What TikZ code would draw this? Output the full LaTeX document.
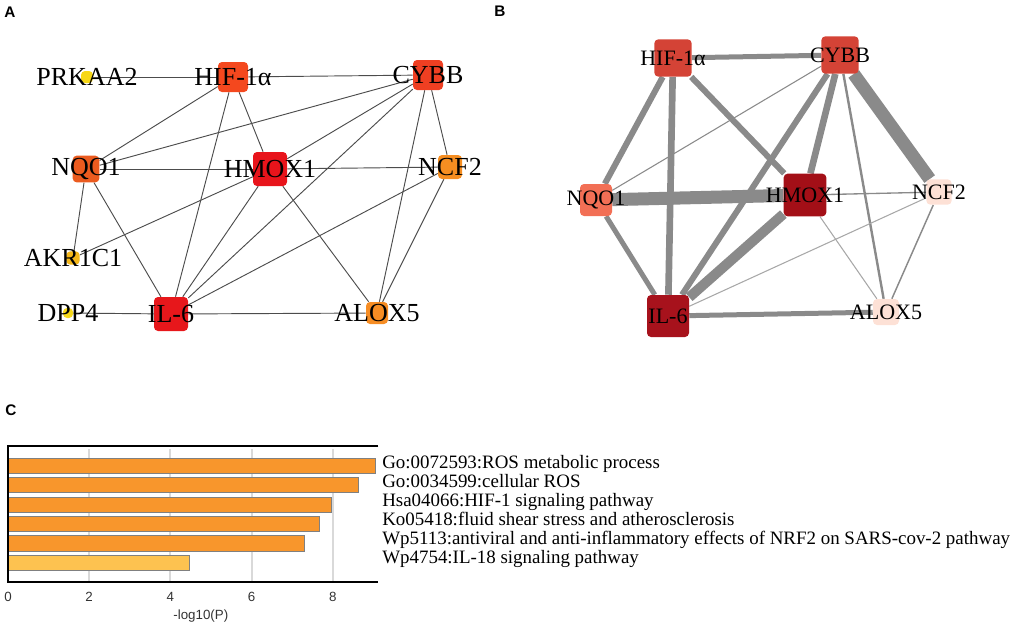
\documentclass[tikz,border=0pt]{standalone}
\usepackage{fontspec}
\setmainfont{Liberation Serif}
\setsansfont{Liberation Sans}
\usetikzlibrary{backgrounds}

\definecolor{cPrk}{HTML}{F7D716}
\definecolor{cHifA}{HTML}{F4481E}
\definecolor{cCybbA}{HTML}{EF3F22}
\definecolor{cNqoA}{HTML}{EB5B1F}
\definecolor{cHmoxA}{HTML}{E8141B}
\definecolor{cNcfA}{HTML}{F68E21}
\definecolor{cAkr}{HTML}{F6B81A}
\definecolor{cDpp}{HTML}{F5D81B}
\definecolor{cIlA}{HTML}{E7171B}
\definecolor{cAloxA}{HTML}{F68D24}
\definecolor{cHifB}{HTML}{D44336}
\definecolor{cNqoB}{HTML}{F26F55}
\definecolor{cHmoxB}{HTML}{A30F17}
\definecolor{cIlB}{HTML}{A7121C}
\definecolor{cPale}{HTML}{FDE1D6}
\definecolor{cEdge}{HTML}{8A8A8A}
\definecolor{cEdgeLt}{HTML}{A8A8A8}
\definecolor{cBar}{HTML}{F8962C}
\definecolor{cBarLt}{HTML}{FDC250}

\newcommand{\geneA}{\fontsize{19.5}{20}\selectfont}
\newcommand{\geneB}{\fontsize{16.5}{17}\selectfont}
\newcommand{\termfont}{\fontsize{14.2}{15}\selectfont}
\newcommand{\tickfont}{\sffamily\fontsize{10}{11}\selectfont}

\tikzset{
  gene/.style={rectangle, rounded corners=3pt, inner sep=0pt, fill=#1},
  edgeA/.style={draw=black!70, line width=0.7pt},
  edgeB/.style={draw=cEdge, line width=#1},
  panel/.style={font=\sffamily\bfseries\fontsize{11.5}{12}\selectfont},
  bar/.style={draw=gray, line width=0.6pt, fill=#1},
  term/.style={font=\termfont, anchor=base west, inner sep=0pt},
}

\begin{document}
\begin{tikzpicture}[x=0.75pt,y=-0.75pt]
\useasboundingbox (0,0) rectangle (1021,626);

\node[panel] (lettA) at (10,12) {A};
\node[panel] (lettB) at (500,11) {B};
\node[panel] (lettC) at (11,410) {C};

%% panel A
\begin{scope}[every label/.style={font=\geneA}]
\node[gene=cPrk, minimum size=9pt, label=center:PRKAA2] (prkA) at (87,77) {};
\node[gene=cHifA, minimum size=22.5pt, label=center:HIF-1α] (hifA) at (233,77) {};
\node[gene=cCybbA, minimum size=22.5pt, label=center:CYBB] (cybbA) at (428,75) {};
\node[gene=cNqoA, minimum size=20pt, label=center:NQO1] (nqoA) at (86,169) {};
\node[gene=cHmoxA, minimum size=25.5pt, label=center:HMOX1] (hmoxA) at (270,169) {};
\node[gene=cNcfA, minimum size=18pt, label=center:NCF2] (ncfA) at (450,167) {};
\node[gene=cAkr, minimum size=10pt, label=center:AKR1C1] (akrA) at (73,258) {};
\node[gene=cDpp, minimum size=7.5pt, label=center:DPP4] (dppA) at (68,313) {};
\node[gene=cIlA, minimum size=25.5pt, label=center:IL-6] (ilA) at (171,314) {};
\node[gene=cAloxA, minimum size=16.5pt, label=center:ALOX5] (aloxA) at (377,313) {};
\end{scope}

\begin{scope}[on background layer]
\draw[edgeA] (prkA)--(hifA);
\draw[edgeA] (hifA)--(cybbA);
\draw[edgeA] (hifA)--(nqoA);
\draw[edgeA] (hifA)--(ilA);
\draw[edgeA] (hifA)--(hmoxA);
\draw[edgeA] (cybbA)--(nqoA);
\draw[edgeA] (cybbA)--(hmoxA);
\draw[edgeA] (cybbA)--(ilA);
\draw[edgeA] (cybbA)--(aloxA);
\draw[edgeA] (cybbA)--(ncfA);
\draw[edgeA] (nqoA)--(hmoxA);
\draw[edgeA] (hmoxA)--(ncfA);
\draw[edgeA] (nqoA)--(akrA);
\draw[edgeA] (nqoA)--(ilA);
\draw[edgeA] (hmoxA)--(akrA);
\draw[edgeA] (hmoxA)--(ilA);
\draw[edgeA] (hmoxA)--(aloxA);
\draw[edgeA] (ncfA)--(ilA);
\draw[edgeA] (ncfA)--(aloxA);
\draw[edgeA] (dppA)--(ilA);
\draw[edgeA] (ilA)--(aloxA);
\end{scope}

%% panel B
\begin{scope}[every label/.style={font=\geneB}]
\node[gene=cHifB, minimum size=28pt, label=center:HIF-1α] (hifB) at (673,58) {};
\node[gene=cHifB, minimum size=28pt, label=center:CYBB] (cybbB) at (840,55) {};
\node[gene=cNqoB, minimum size=24pt, label=center:NQO1] (nqoB) at (596,200) {};
\node[gene=cHmoxB, minimum size=32pt, label=center:HMOX1] (hmoxB) at (805,195) {};
\node[gene=cPale, minimum size=19pt, label=center:NCF2] (ncfB) at (939,192) {};
\node[gene=cPale, minimum size=19.5pt, label=center:ALOX5] (aloxB) at (886,312) {};
\node[gene=cIlB, minimum size=31.5pt, label=center:IL-6] (ilB) at (668,316) {};
\end{scope}

\begin{scope}[on background layer]
\draw[edgeB=3.75pt] (hifB)--(cybbB);
\draw[edgeB=4.5pt] (hifB)--(nqoB);
\draw[edgeB=5pt] (hifB)--(ilB);
\draw[edgeB=4.5pt] (hifB)--(hmoxB);
\draw[edgeB=0.8pt] (cybbB)--(nqoB);
\draw[edgeB=4.5pt] (cybbB)--(ilB);
\draw[edgeB=5pt] (cybbB)--(hmoxB);
\draw[edgeB=1.8pt] (cybbB)--(aloxB);
\draw[edgeB=9.75pt] (cybbB)--(ncfB);
\draw[edgeB=9.75pt] (nqoB)--(hmoxB);
\draw[edgeB=3.75pt] (nqoB)--(ilB);
\draw[edgeB=7.5pt] (hmoxB)--(ilB);
\draw[edgeB=1pt] (hmoxB)--(ncfB);
\draw[edgeB=0.8pt, draw=cEdgeLt] (hmoxB)--(aloxB);
\draw[edgeB=0.8pt, draw=cEdgeLt] (ilB)--(ncfB);
\draw[edgeB=1.1pt] (ncfB)--(aloxB);
\draw[edgeB=3.75pt] (ilB)--(aloxB);
\end{scope}

%% panel C
\begin{scope}[shift={(8,0)}, x=30.45pt]
\foreach \v in {2,4,6,8}
  \draw[black!15, line width=1.5pt] (\v,449) -- (\v,582);
\draw[bar=cBar] (0,458) rectangle (9.04,473);
\draw[bar=cBar] (0,477) rectangle (8.62,492);
\draw[bar=cBar] (0,497) rectangle (7.96,512);
\draw[bar=cBar] (0,516) rectangle (7.66,531);
\draw[bar=cBar] (0,535) rectangle (7.31,551);
\draw[bar=cBarLt] (0,555) rectangle (4.48,570);
\draw[line width=0.8pt] (9.12,446) -- (0,446) -- (0,582) -- (9.12,582);
\foreach \v in {0,2,4,6,8}
  \node[font=\tickfont, text=black!80] (tick\v) at (\v,597) {\v};
\node[font=\tickfont, text=black!80] (xname) at (4.75,616) {-log10(P)};
\end{scope}

\node[term] (term1) at (382,468) {Go:0072593:ROS metabolic process};
\node[term] (term2) at (382,487) {Go:0034599:cellular ROS};
\node[term] (term3) at (382,506) {Hsa04066:HIF-1 signaling pathway};
\node[term] (term4) at (382,525) {Ko05418:fluid shear stress and atherosclerosis};
\node[term] (term5) at (382,544) {Wp5113:antiviral and anti-inflammatory effects of NRF2 on SARS-cov-2 pathway};
\node[term] (term6) at (382,563) {Wp4754:IL-18 signaling pathway};

\end{tikzpicture}
\end{document}
